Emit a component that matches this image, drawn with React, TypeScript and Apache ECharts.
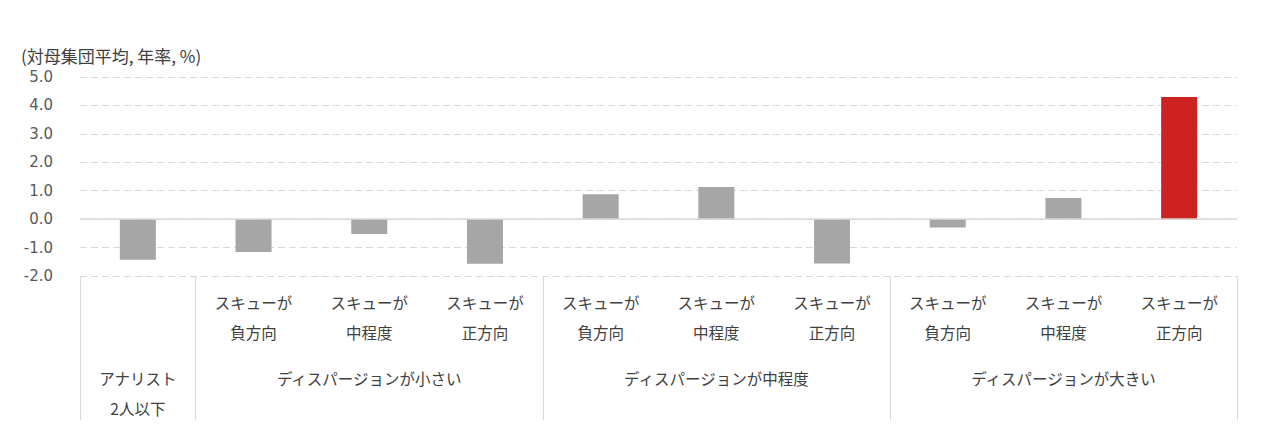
import * as echarts from 'echarts';
import { useEffect, useRef } from 'react';

// 対母集団平均の超過リターン（年率, %）
const skewLabels = ['', 'スキューが\n負方向', 'スキューが\n中程度', 'スキューが\n正方向', 'スキューが\n負方向', 'スキューが\n中程度', 'スキューが\n正方向', 'スキューが\n負方向', 'スキューが\n中程度', 'スキューが\n正方向'];
const groupLabels = ['アナリスト\n2人以下', '', 'ディスパージョンが小さい', '', '', 'ディスパージョンが中程度', '', '', 'ディスパージョンが大きい', ''];
const values = [-1.43, -1.16, -0.52, -1.57, 0.88, 1.13, -1.56, -0.29, 0.74, 4.3];
const highlightIndex = 9;
// 区切り線を引く境界（カテゴリの左端）
const boundaries = [0, 1, 4, 7];

const JP = '"Noto Sans CJK JP", sans-serif';
const GRID = '#d9d9d9';

export default function App() {
  const chartRef = useRef<HTMLDivElement>(null);

  useEffect(() => {
    if (!chartRef.current) return;
    const chart = echarts.init(chartRef.current, undefined, { renderer: 'svg' });

    chart.setOption({
      animation: false,
      backgroundColor: '#fff',
      title: {
        text: '(対母集団平均, 年率, %)',
        left: 16,
        top: 42,
        textStyle: { fontFamily: JP, fontSize: 17, fontWeight: 'normal', color: '#404040' },
      },
      grid: { left: 80, right: 26, top: 77, bottom: 155 },
      xAxis: [
        {
          type: 'category',
          data: skewLabels,
          axisLine: { show: false, onZero: false },
          axisTick: {
            show: true,
            length: 144,
            interval: (i: number) => boundaries.includes(i),
            lineStyle: { color: GRID },
          },
          axisLabel: {
            interval: 0,
            margin: 11,
            fontFamily: JP,
            fontSize: 15.5,
            lineHeight: 30,
            color: '#404040',
            verticalAlign: 'top',
          },
        },
        {
          type: 'category',
          position: 'bottom',
          offset: 0,
          data: groupLabels,
          axisLine: { show: false, onZero: false },
          axisTick: { show: false },
          axisLabel: {
            interval: 0,
            margin: 87,
            fontFamily: JP,
            fontSize: 15.5,
            lineHeight: 30,
            color: '#404040',
            verticalAlign: 'top',
          },
        },
      ],
      yAxis: {
        type: 'value',
        min: -2,
        max: 5,
        interval: 1,
        axisLine: { show: false },
        axisTick: { show: false },
        axisLabel: {
          margin: 27,
          fontFamily: '"DejaVu Sans", sans-serif',
          fontSize: 15,
          color: '#595959',
          formatter: (v: number) => v.toFixed(1),
        },
        splitLine: { lineStyle: { color: GRID, type: [7, 4], width: 1 } },
      },
      series: [
        {
          type: 'bar',
          xAxisIndex: 0,
          barWidth: 36,
          data: values.map((v, i) => ({
            value: v,
            itemStyle: { color: i === highlightIndex ? '#cc2222' : '#a6a6a6' },
          })),
          markLine: {
            silent: true,
            symbol: 'none',
            label: { show: false },
            lineStyle: { color: GRID, type: 'solid', width: 1.5 },
            data: [{ yAxis: 0 }],
          },
        },
      ],
    });

    return () => chart.dispose();
  }, []);

  return (
    <div
      ref={chartRef}
      style={{ position: 'fixed', left: 0, top: 0, width: 1263, height: 431 }}
    />
  );
}
